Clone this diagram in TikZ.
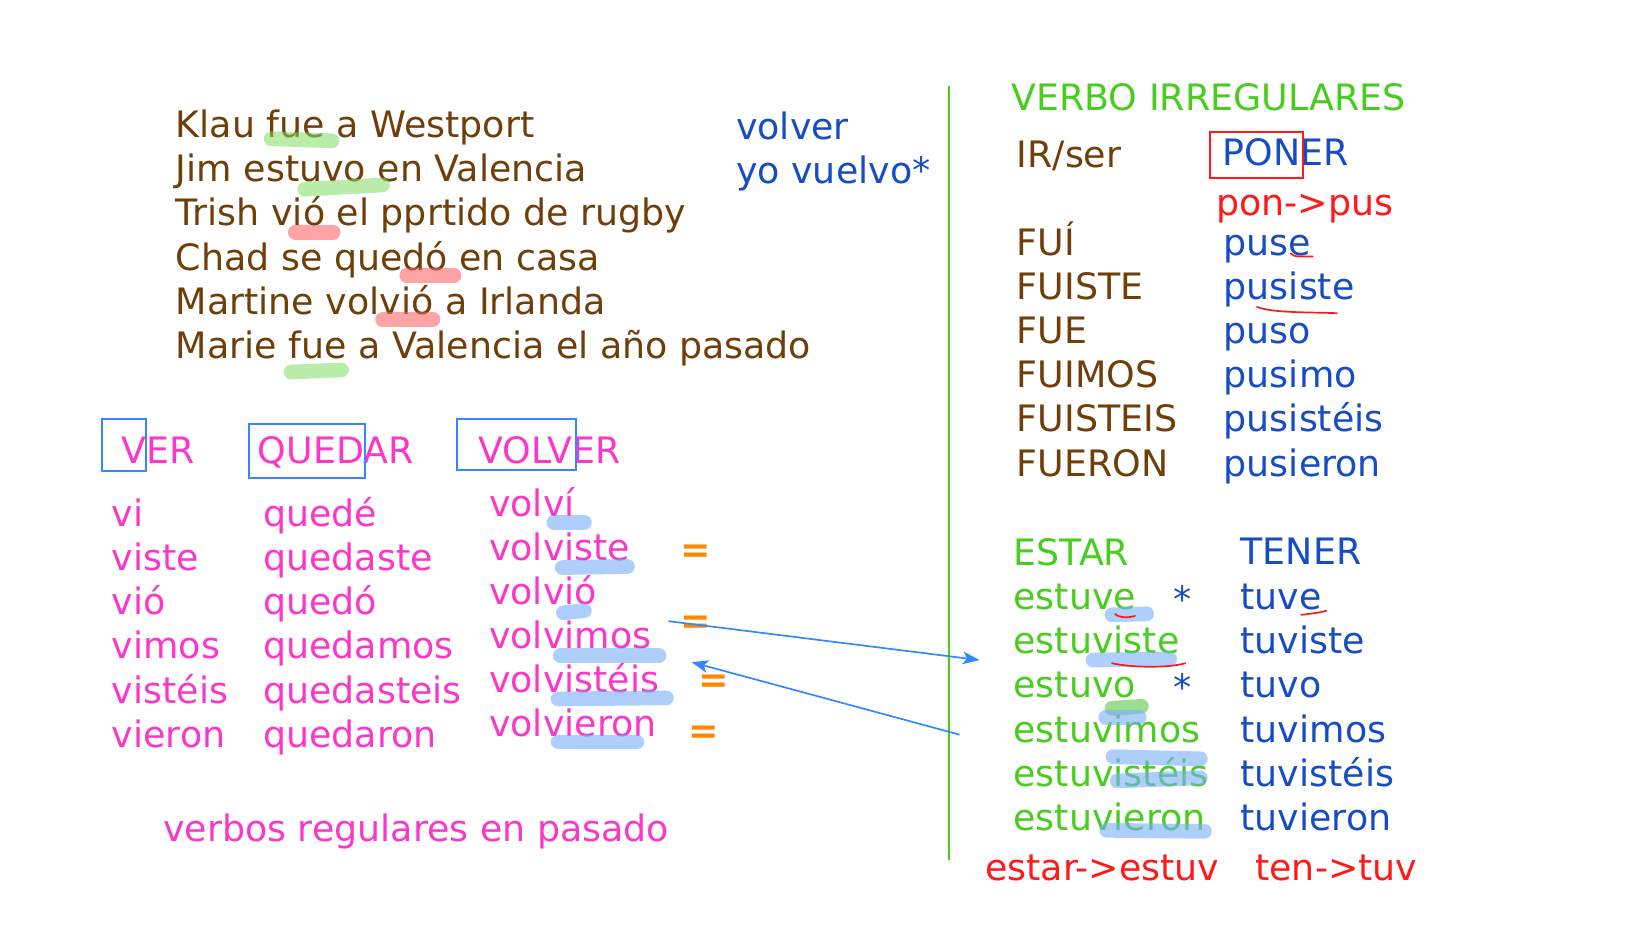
\documentclass[tikz,border=0pt]{standalone}
\usepackage{fontspec}
\setmainfont{DejaVu Sans}
\usetikzlibrary{arrows.meta}
\definecolor{brn}{RGB}{112,62,8}
\definecolor{blu}{RGB}{22,76,196}
\definecolor{pnk}{RGB}{250,55,200}
\definecolor{grn}{RGB}{72,205,30}
\definecolor{rd}{RGB}{255,25,25}
\definecolor{org}{RGB}{255,136,0}
\definecolor{bxb}{RGB}{51,136,255}
\definecolor{hgB}{RGB}{120,175,250}
\definecolor{hgG}{RGB}{130,220,100}
\definecolor{hgR}{RGB}{255,90,90}
\definecolor{hgD}{RGB}{90,200,70}
\begin{document}
\begin{tikzpicture}[x=0.5pt,y=-0.5pt,
  txt/.style={anchor=base west, inner sep=0pt, font=\fontsize{17.3}{20}\selectfont},
  tb/.style={txt, text=brn},
  tbl/.style={txt, text=blu},
  tp/.style={txt, text=pnk},
  tg/.style={txt, text=grn},
  tr/.style={txt, text=rd},
  eqs/.style={anchor=center, inner sep=0pt, text=org, font=\fontsize{17.3}{20}\selectfont\bfseries},
  ast/.style={anchor=center, inner sep=0pt, text=blu, font=\fontsize{17.3}{20}\selectfont},
  bbox/.style={draw=bxb, line width=1pt, inner sep=0pt, anchor=north west},
  rbox/.style={draw=rd, line width=1pt, inner sep=0pt, anchor=north west},
  hB/.style={draw=hgB, line width=7pt, line cap=round, opacity=0.6},
  hG/.style={draw=hgG, line width=7pt, line cap=round, opacity=0.55},
  hR/.style={draw=hgR, line width=7pt, line cap=round, opacity=0.55},
  hD/.style={draw=hgD, line width=7pt, line cap=round, opacity=0.6},
  uR/.style={draw=rd, line width=0.8pt, line cap=round},
  conn/.style={draw=bxb, line width=0.8pt, -{Stealth[length=8pt,width=6pt,inset=2pt]}},
  sep/.style={draw=grn, line width=1pt}
]
\useasboundingbox (0,0) rectangle (1568,882);

% ---------- sentences ----------
\node[tb] (s1) at (167,131) {Klau fue a Westport};
\node[tb] (s2) at (167,173) {Jim estuvo en Valencia};
\node[tb] (s3) at (167,215) {Trish vió el pprtido de rugby};
\node[tb] (s4) at (167,257) {Chad se quedó en casa};
\node[tb] (s5) at (167,299) {Martine volvió a Irlanda};
\node[tb] (s6) at (167,341) {Marie fue a Valencia el año pasado};

\node[tbl] (v1) at (700,133) {volver};
\node[tbl] (v2) at (700,175) {yo vuelvo*};

% ---------- separator ----------
\coordinate (sepT) at (903,82);
\coordinate (sepB) at (903,818);
\draw[sep] (sepT) -- (sepB);

% ---------- irregular verbs ----------
\node[tg] (vi) at (962,105) {VERBO IRREGULARES};
\node[tb] (ir) at (967,159) {IR/ser};
\node[tbl] (pon) at (1163,157) {PONER};
\node[rbox, minimum width=89*0.5pt, minimum height=43*0.5pt] (ponbox) at (1150,125) {};
\node[tr] (ponpus) at (1157,205) {pon->pus};

\foreach \t [count=\i] in {FUÍ,FUISTE,FUE,FUIMOS,FUISTEIS,FUERON}
  \node[tb] (fu\i) at (967,201+42*\i) {\t};
\foreach \t [count=\i] in {puse,pusiste,puso,pusimo,pusistéis,pusieron}
  \node[tbl] (pu\i) at (1164,201+42*\i) {\t};

\node[tg] (estar) at (964,538) {ESTAR};
\node[tbl] (tener) at (1180,537) {TENER};
\foreach \t [count=\i] in {estuve,estuviste,estuvo,estuvimos,estuvistéis,estuvieron}
  \node[tg] (es\i) at (964,538+42*\i) {\t};
\foreach \t [count=\i] in {tuve,tuviste,tuvo,tuvimos,tuvistéis,tuvieron}
  \node[tbl] (tu\i) at (1180,538+42*\i) {\t};
\node[ast] (as1) at (1125,570) {*};
\node[ast] (as2) at (1125,654) {*};
\node[tr] (estuv) at (937,838) {estar->estuv};
\node[tr] (tuv) at (1194,838) {ten->tuv};

% ---------- regular verbs ----------
\node[tp] (ver) at (115,441) {VER};
\node[tp] (qued) at (245,441) {QUEDAR};
\node[tp] (volv) at (455,441) {VOLVER};
\node[bbox, minimum width=42*0.5pt, minimum height=49*0.5pt] (bx1) at (96,398) {};
\node[bbox, minimum width=110*0.5pt, minimum height=52*0.5pt] (bx2) at (236,402) {};
\node[bbox, minimum width=113*0.5pt, minimum height=48*0.5pt] (bx3) at (434,398) {};

\foreach \t [count=\i] in {vi,viste,vió,vimos,vistéis,vieron}
  \node[tp] (ve\i) at (106,459+42*\i) {\t};
\foreach \t [count=\i] in {quedé,quedaste,quedó,quedamos,quedasteis,quedaron}
  \node[tp] (qu\i) at (250,459+42*\i) {\t};
\foreach \t [count=\i] in {volví,volviste,volvió,volvimos,volvistéis,volvieron}
  \node[tp] (vo\i) at (465,449+42*\i) {\t};

\node[eqs] (eq1) at (662,527) {=};
\node[eqs] (eq2) at (662,594) {=};
\node[eqs] (eq3) at (679,651) {=};
\node[eqs] (eq4) at (670,699) {=};

\node[tp] (reg) at (155,801) {verbos regulares en pasado};

% ---------- connectors ----------
\coordinate (a1s) at (636,591);
\coordinate (a1e) at (932,628);
\coordinate (a2s) at (913,699);
\coordinate (a2e) at (658,630);
\draw[conn] (a1s) -- (a1e);
\draw[conn] (a2s) -- (a2e);

% ---------- highlights ----------
\draw[hG] (258,132) -- (316,134);
\draw[hG] (290,180) -- (364,176);
\draw[hR] (281,221) -- (317,221);
\draw[hR] (387,262) -- (432,262);
\draw[hR] (364,304) -- (412,304);
\draw[hG] (277,354) -- (325,352);

\draw[hB] (527,497) -- (556,497);
\draw[hB] (535,540) -- (597,539);
\draw[hB] (536,583) -- (556,581);
\draw[hB] (533,624) -- (627,624);
\draw[hB] (531,665) -- (634,664);
\draw[hB] (531,706) -- (606,706);

\draw[hB] (1058,585) -- (1091,584);
\draw[hB] (1040,628) -- (1113,627);
\draw[hD] (1058,674) -- (1086,672);
\draw[hB] (1052,683) -- (1084,683);
\draw[hB] (1059,720) -- (1142,722);
\draw[hB] (1063,743) -- (1142,740);
\draw[hB] (1053,790) -- (1146,791);

% ---------- red underlines ----------
\draw[uR] (1228,241) .. controls (1230,245) and (1240,244) .. (1249,244);
\draw[uR] (1196,292) .. controls (1210,298) and (1250,297) .. (1272,298);
\draw[uR] (1061,584) .. controls (1064,588) and (1074,588) .. (1080,586);
\draw[uR] (1058,631) .. controls (1075,635) and (1110,636) .. (1128,631);
\draw[uR] (1238,585) .. controls (1246,584) and (1256,583) .. (1262,581);
\end{tikzpicture}
\end{document}
